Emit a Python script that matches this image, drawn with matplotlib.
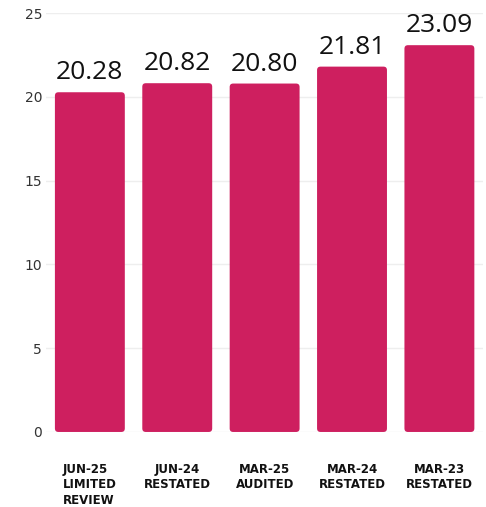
import matplotlib
matplotlib.use("Agg")
import matplotlib.pyplot as plt
from matplotlib.patches import FancyBboxPatch

categories = ["JUN-25\nLIMITED\nREVIEW", "JUN-24\nRESTATED", "MAR-25\nAUDITED", "MAR-24\nRESTATED", "MAR-23\nRESTATED"]
values = [20.28, 20.82, 20.80, 21.81, 23.09]
yticks = [0, 5, 10, 15, 20, 25]

bar_color = "#CE1F5F"

fig = plt.figure(figsize=(4.86, 5.07), dpi=100)
ax = fig.add_axes([0.095, 0.148, 0.899, 0.826])

bars = ax.bar(range(len(values)), values, width=0.8, color=bar_color)
for b in bars:
    x, y, w, h = b.get_x(), b.get_y(), b.get_width(), b.get_height()
    b.set_visible(False)
    p = FancyBboxPatch((x, y), w, h, boxstyle="round,pad=0,rounding_size=0.04",
                       mutation_aspect=5.2, facecolor=bar_color, edgecolor="none", zorder=3)
    ax.add_patch(p)
    ax.annotate(f"{h:.2f}", (x + w / 2, h), xytext=(0, 5), textcoords="offset points",
                ha="center", va="bottom", fontsize=19, family="Open Sans", color="#111111")

ax.set_xlim(-0.5, len(values) - 0.5)
ax.set_ylim(0, 25)
ax.set_yticks(yticks)
ax.set_yticklabels([str(t) for t in yticks], fontsize=10, family="DejaVu Sans", color="#333333")
ax.set_xticks(range(len(values)))
ax.set_xticklabels(categories, fontsize=8.5, fontweight="bold", family="DejaVu Sans",
                   color="#111111", linespacing=1.25, va="top")
ax.get_xticklabels()[0].set_multialignment("left")
ax.tick_params(axis="both", length=0)
ax.tick_params(axis="x", pad=22)
ax.tick_params(axis="y", pad=3)
ax.grid(axis="y", color="#eeeeee", linewidth=1, zorder=0)
for s in ax.spines.values():
    s.set_visible(False)

fig.savefig("out.png", dpi=100)
